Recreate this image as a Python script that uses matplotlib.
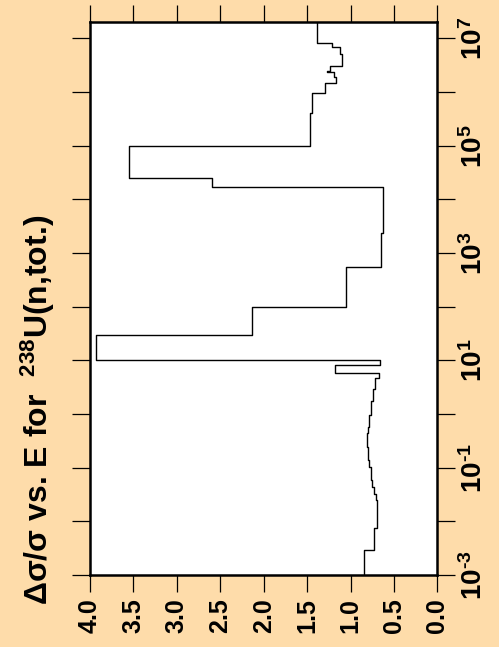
import numpy as np
import matplotlib
matplotlib.use('Agg')
import matplotlib.pyplot as plt

plt.rcParams['font.family'] = 'Liberation Sans'
plt.rcParams['font.weight'] = 'bold'
plt.rcParams['mathtext.fontset'] = 'custom'
plt.rcParams['mathtext.rm'] = 'Liberation Sans:bold'
plt.rcParams['mathtext.bf'] = 'Liberation Sans:bold'
plt.rcParams['mathtext.it'] = 'Liberation Sans:bold'
plt.rcParams['mathtext.sf'] = 'Liberation Sans:bold'
plt.rcParams['mathtext.default'] = 'rm'

# group boundaries in eV, and relative uncertainty for each group
energy_edges = [1e-3, 2.92e-3, 7.4e-3, 0.025, 0.0323, 0.0437, 0.0589, 0.0794,
                0.1028, 0.139, 0.1875, 0.2427, 0.327, 0.4426, 0.573, 0.96,
                1.77, 2.88, 4.62, 5.73, 8.18, 10.0, 30.0, 100.0, 541.0,
                2328.0, 16750.0, 24600.0, 1.0e5, 4.01e5, 9.44e5, 1.452e6,
                1.90e6, 2.40e6, 2.49e6, 3.09e6, 5.10e6, 6.79e6, 8.28e6, 2.0e7]
rel_unc = [0.85, 0.73, 0.70, 0.71, 0.73, 0.75, 0.76, 0.77, 0.785, 0.795,
           0.80, 0.81, 0.81, 0.80, 0.79, 0.765, 0.74, 0.715, 0.675, 1.18,
           0.66, 3.93, 2.13, 1.05, 0.655, 0.63, 2.59, 3.55, 1.47, 1.44,
           1.30, 1.17, 1.19, 1.275, 1.24, 1.10, 1.12, 1.22, 1.39]

x_ticks = [4.0, 3.5, 3.0, 2.5, 2.0, 1.5, 1.0, 0.5, 0.0]
x_ticklabels = ['4.0', '3.5', '3.0', '2.5', '2.0', '1.5', '1.0', '0.5', '0.0']
e_decades = [-3, -2, -1, 0, 1, 2, 3, 4, 5, 6, 7]

title = r'$\Delta\sigma/\sigma$ vs. E for  $^{238}$U(n,tot.)'

bg = '#fedcaa'

# histogram outline with energy running up the page
e = np.array(energy_edges)
v = np.array(rel_unc)
xs = np.repeat(v, 2)
ys = np.column_stack([e[:-1], e[1:]]).ravel()

fig = plt.figure(figsize=(4.99, 6.47), dpi=100, facecolor=bg)
ax = fig.add_axes([90 / 499, 72 / 647, 347.5 / 499, 552.7 / 647])
ax.set_facecolor('white')

ax.plot(xs, ys, color='black', lw=1.0)

ax.set_yscale('log')
ax.set_ylim(1e-3, 2.0e7)
ax.set_xlim(4.0, 0.0)
ax.minorticks_off()


def elabel(d):
    # short hyphen for negative exponents
    s = str(d).replace('-', '\u2010')
    return r'$10^{%s}$' % s


ax.set_xticks(x_ticks)
ax.set_xticklabels(x_ticklabels, rotation=90, fontsize=18, fontweight='bold')
ax.set_yticks([10.0 ** d for d in e_decades])
ax.set_yticklabels([elabel(d) if d % 2 else '' for d in e_decades],
                   rotation=90, fontsize=20, va='center')

ax.tick_params(axis='x', which='both', top=True, bottom=True, direction='out',
               length=12, width=0.9, pad=5)
ax.tick_params(axis='y', which='both', left=True, right=True, labelleft=False,
               labelright=True, direction='out', length=13, width=0.9, pad=3)
for s in ax.spines.values():
    s.set_linewidth(1.8)

fig.text(0.075, 0.065, title, rotation=90, fontsize=23, fontweight='bold',
         ha='center', va='bottom')

fig.savefig('out.png', dpi=100, facecolor=bg)
